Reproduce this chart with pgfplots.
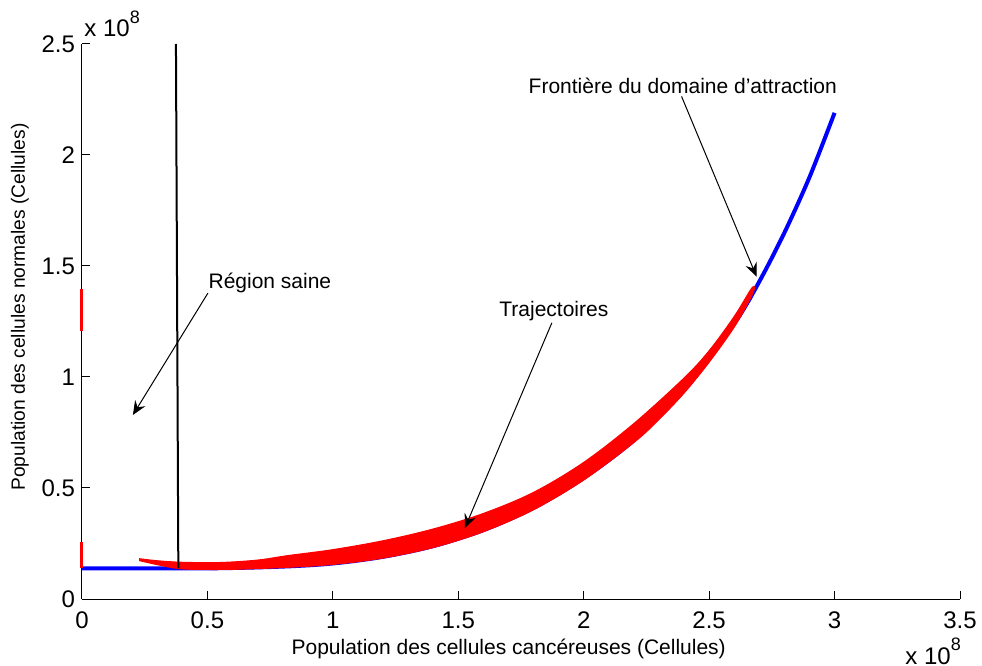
\documentclass[border=0pt]{standalone}
\usepackage{fontspec}
\setmainfont{Liberation Sans}
\usepackage{pgfplots}
\pgfplotsset{compat=1.18}
\usetikzlibrary{arrows.meta}

\begin{document}
\begin{tikzpicture}[font=\fontsize{10.5bp}{12.5bp}\selectfont]
\begin{axis}[
  at={(0,0)}, anchor=south west,
  scale only axis, width=439bp, height=277.5bp,
  xmin=0, xmax=3.5, ymin=0, ymax=2.5,
  axis x line*=bottom, axis y line*=left,
  axis line style={line width=0.5bp, black},
  xtick={0,0.5,1,1.5,2,2.5,3,3.5},
  xticklabels={0,0.5,1,1.5,2,2.5,3,3.5},
  ytick={0,0.5,1,1.5,2,2.5},
  yticklabels={0,0.5,1,1.5,2,2.5},
  tick align=inside, major tick length=4bp,
  tick style={line width=0.5bp, black},
  ticklabel style={font=\fontsize{12bp}{14bp}\selectfont},
  xticklabel style={yshift=-3bp},
  clip=false,
  xlabel={Population des cellules cancéreuses (Cellules)},
  xlabel style={at={(axis description cs:0.486,0)}, anchor=center, yshift=-25bp},
  ylabel={Population des cellules normales (Cellules)},
  ylabel style={at={(axis description cs:-0.0706,0.526)}, anchor=center, font=\fontsize{9.6bp}{11bp}\selectfont},
]
% boundary of the domain of attraction (blue)
\addplot[blue, line width=2bp, smooth, tension=0.5] coordinates {
(0,0.138) (0.5,0.138) (0.8,0.146) (1.0,0.160) (1.2,0.190) (1.4,0.238)
(1.6,0.31) (1.8,0.41) (2.0,0.545) (2.2,0.715) (2.4,0.94) (2.6,1.24)
(2.7,1.43) (2.8,1.65) (2.9,1.90) (3.0,2.19)};
% trajectories (red band)
\addplot[draw=red, fill=red, line width=0.6bp, smooth, tension=0.55] coordinates {
(0.23,0.181) (0.30,0.172) (0.40,0.165) (0.55,0.164) (0.70,0.175) (0.82,0.195)
(1.00,0.222) (1.20,0.262) (1.40,0.315) (1.60,0.385) (1.80,0.48) (2.00,0.615)
(2.20,0.79) (2.40,0.995) (2.50,1.118) (2.60,1.272) (2.67,1.40)
(2.675,1.38) (2.606,1.236) (2.506,1.076) (2.406,0.936) (2.306,0.816) (2.206,0.711)
(2.006,0.541) (1.806,0.406) (1.606,0.306) (1.406,0.234) (1.206,0.186) (1.00,0.156)
(0.80,0.142) (0.60,0.134) (0.45,0.134) (0.38,0.138) (0.30,0.155) (0.23,0.173)} -- cycle;
% red segments on the y axis
\addplot[red, line width=1.5bp] coordinates {(0,1.208) (0,1.396)};
\addplot[red, line width=1.5bp] coordinates {(0,0.14) (0,0.258)};
% separatrix (black)
\addplot[black, line width=1bp] coordinates {(0.3745,2.5) (0.384,0.138)};
% annotations
\node[anchor=base] at (axis cs:0.749,1.400) {Région saine};
\node[anchor=base] at (axis cs:1.881,1.272) {Trajectoires};
\node[anchor=base] at (axis cs:2.395,2.279) {Frontière du domaine d’attraction};
\draw[line width=0.5bp, -{Stealth[length=7bp,width=6bp,inset=2.5bp]}] (axis cs:0.502,1.378) -- (axis cs:0.203,0.829);
\draw[line width=0.5bp, -{Stealth[length=7bp,width=6bp,inset=2.5bp]}] (axis cs:1.873,1.244) -- (axis cs:1.526,0.319);
\draw[line width=0.5bp, -{Stealth[length=7bp,width=6bp,inset=2.5bp]}] (axis cs:2.390,2.264) -- (axis cs:2.689,1.452);
% scale factors
\node[anchor=base west, inner sep=0pt, font=\fontsize{12bp}{14bp}\selectfont] at ([xshift=1bp, yshift=3.5bp]rel axis cs:0,1) {x 10\raisebox{0.55em}{\fontsize{9bp}{10bp}\selectfont 8}};
\node[anchor=base west, inner sep=0pt, font=\fontsize{12bp}{14bp}\selectfont] at ([xshift=-27.5bp, yshift=-32.5bp]rel axis cs:1,0) {x 10\raisebox{0.55em}{\fontsize{9bp}{10bp}\selectfont 8}};
\end{axis}
\pgfresetboundingbox
\useasboundingbox (-41bp,-33.5bp) rectangle (450bp,299.5bp);
\end{tikzpicture}
\end{document}
